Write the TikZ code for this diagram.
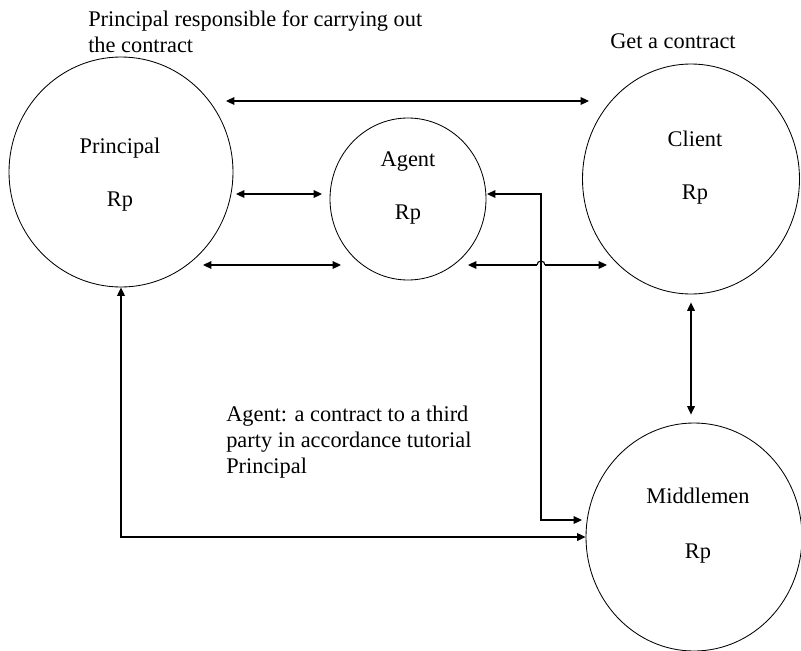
\documentclass[tikz,border=0pt]{standalone}
\usepackage{fontspec}
\setmainfont{Liberation Serif}
\usetikzlibrary{shapes.geometric,arrows.meta}
\pgfdeclarelayer{bg}
\pgfsetlayers{bg,main}

\begin{document}
\begin{tikzpicture}[font=\fontsize{15.9pt}{18.5pt}\selectfont,
        >={Triangle[length=6pt,width=5.5pt]},
        party/.style={draw, ellipse, line width=0.6pt, inner sep=0pt},
        link/.style={line width=0.8pt, <->},
        txt/.style={inner sep=0pt, anchor=base}]
        \useasboundingbox (0cm, 0cm) rectangle (20.025cm, -16.275cm);
        % the four parties
        \node (pr) [party, minimum width=5.600000cm, minimum height=5.750000cm] at (3.025000cm, -4.300000cm) {};
        \node (ag) [party, minimum width=3.900000cm, minimum height=4.050000cm] at (10.200000cm, -4.975000cm) {};
        \node (cl) [party, minimum width=5.425000cm, minimum height=5.750000cm] at (17.275000cm, -4.475000cm) {};
        \node (mi) [party, minimum width=5.400000cm, minimum height=5.700000cm] at (17.350000cm, -13.425000cm) {};
        \node (prname) [txt] at (3.000000cm, -3.825000cm) {Principal};
        \node (prrp) [txt] at (3.000000cm, -5.150000cm) {Rp};
        \node (agname) [txt] at (10.200000cm, -4.150000cm) {Agent};
        \node (agrp) [txt] at (10.200000cm, -5.475000cm) {Rp};
        \node (clname) [txt] at (17.375000cm, -3.650000cm) {Client};
        \node (clrp) [txt] at (17.375000cm, -4.975000cm) {Rp};
        \node (miname) [txt] at (17.450000cm, -12.575000cm) {Middlemen};
        \node (mirp) [txt] at (17.450000cm, -13.950000cm) {Rp};
        % notes
        \node (n1) [inner sep=0pt, anchor=north west, align=left] at (2.200000cm, -0.250000cm) {Principal responsible for carrying out\\the contract};
        \node (n2) [txt, anchor=base west] at (15.250000cm, -1.200000cm) {Get a contract};
        \node (n3) [inner sep=0pt, anchor=north west, align=left] at (5.650000cm, -10.150000cm) {Agent: a contract to a third\\party in accordance tutorial\\Principal};
        % arrow ends
        \coordinate (t1) at (5.650000cm, -2.525000cm);
        \coordinate (t2) at (14.725000cm, -2.525000cm);
        \coordinate (p1) at (5.900000cm, -4.850000cm);
        \coordinate (p2) at (8.050000cm, -4.850000cm);
        \coordinate (q1) at (5.075000cm, -6.625000cm);
        \coordinate (q2) at (8.525000cm, -6.625000cm);
        \coordinate (c1) at (11.700000cm, -6.625000cm);
        \coordinate (c2) at (15.175000cm, -6.625000cm);
        \coordinate (h1) at (13.425000cm, -6.625000cm);
        \coordinate (h2) at (13.625000cm, -6.625000cm);
        \coordinate (a1) at (12.175000cm, -4.850000cm);
        \coordinate (a2) at (13.525000cm, -4.850000cm);
        \coordinate (m1) at (14.550000cm, -13.000000cm);
        \begin{pgfonlayer}{bg}
                \draw (t1) edge [link] (t2);
                \draw (p1) edge [link] (p2);
                \draw (q1) edge [link] (q2);
                \draw [link, <-] (c1) -- (h1);
                \draw [line width=0.8pt] (h1) arc [start angle=180, end angle=0, radius=0.1cm];
                \draw [link, ->] (h2) -- (c2);
                \draw [link] (a1) -- (a2) |- (m1);
                \draw [link] (pr.south) |- (mi.west);
                \draw [link, shorten <=0.2cm, shorten >=0.2cm] (cl.south) -- (cl.south |- mi.north);
        \end{pgfonlayer}
\end{tikzpicture}
\end{document}
